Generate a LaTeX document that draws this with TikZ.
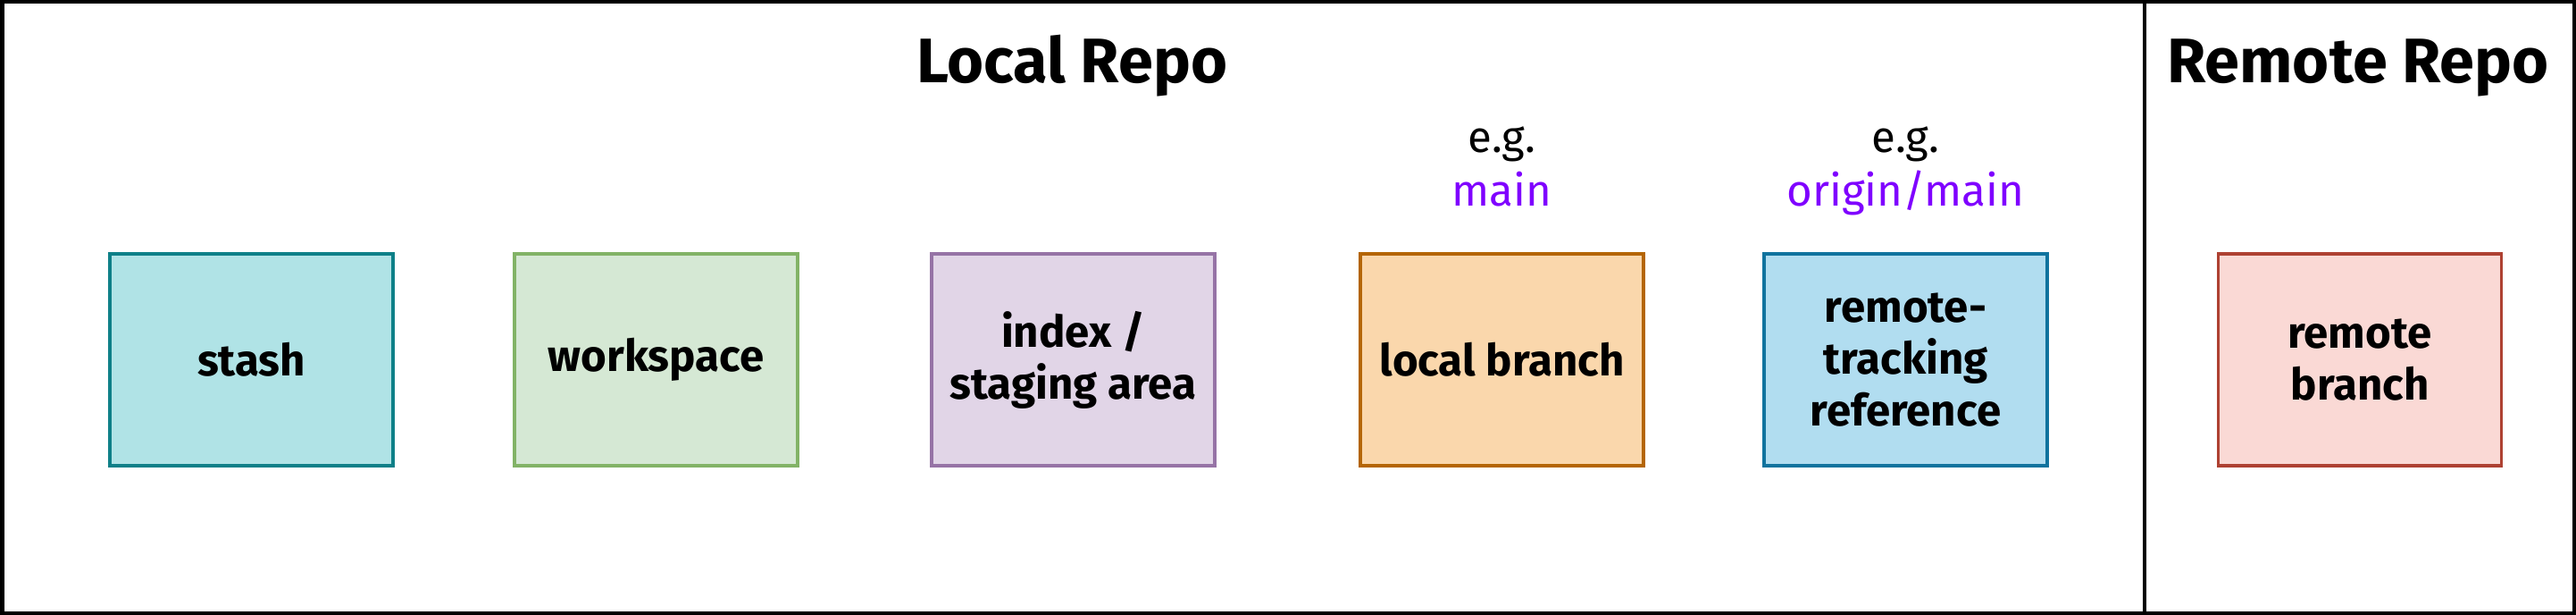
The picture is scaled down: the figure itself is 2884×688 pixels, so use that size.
\documentclass[tikz,border=0pt]{standalone}
\usepackage{fontspec}
\setmainfont{Fira Sans}
\definecolor{stashfill}{HTML}{B0E3E6}\definecolor{stashline}{HTML}{0E8088}
\definecolor{wsfill}{HTML}{D5E8D4}\definecolor{wsline}{HTML}{82B366}
\definecolor{idxfill}{HTML}{E1D5E7}\definecolor{idxline}{HTML}{9673A6}
\definecolor{lbfill}{HTML}{FAD7AC}\definecolor{lbline}{HTML}{B46504}
\definecolor{rtfill}{HTML}{B1DDF0}\definecolor{rtline}{HTML}{10739E}
\definecolor{rbfill}{HTML}{FAD9D5}\definecolor{rbline}{HTML}{AE4132}
\definecolor{purpletext}{HTML}{7F00FF}
\tikzset{
  repobox/.style={draw, line width=1pt, minimum width=3.17cm, minimum height=2.37cm,
    inner sep=0pt, align=center, font=\fontsize{14}{16.5}\selectfont\bfseries},
  repotitle/.style={anchor=base, inner sep=0pt, font=\fontsize{20}{24}\selectfont\bfseries},
  eglabel/.style={anchor=base, inner sep=0pt, font=\fontsize{14}{16.5}\selectfont},
}
\begin{document}
\begin{tikzpicture}[x=0.01cm, y=-0.01cm]
\useasboundingbox (0,0) rectangle (2884,688);
\draw[line width=0.045cm] (2.25,2.25) rectangle (2881.75,685.75);
\coordinate (divtop) at (2401,2.25);
\coordinate (divbot) at (2401,685.75);
\draw[line width=0.04cm] (divtop) -- (divbot);

\node[repotitle] (localtitle) at (1200,93) {Local Repo};
\node[repotitle] (remotetitle) at (2640,93) {Remote Repo};

\node[eglabel] (eg1) at (1681.5,171) {e.g.};
\node[eglabel, text=purpletext] (main1) at (1681.5,231) {main};
\node[eglabel] (eg2) at (2133.5,171) {e.g.};
\node[eglabel, text=purpletext] (main2) at (2133.5,231) {origin/main};

\node[repobox, fill=stashfill, draw=stashline] (stash) at (281.5,402.5) {stash};
\node[repobox, fill=wsfill, draw=wsline] (workspace) at (734.5,402.5) {workspace};
\node[repobox, fill=idxfill, draw=idxline] (index) at (1201.5,402.5) {index /\\staging area};
\node[repobox, fill=lbfill, draw=lbline] (local) at (1681.5,402.5) {local branch};
\node[repobox, fill=rtfill, draw=rtline] (rtref) at (2133.5,402.5) {remote-\\tracking\\reference};
\node[repobox, fill=rbfill, draw=rbline] (rbranch) at (2642,402.5) {remote\\branch};
\end{tikzpicture}
\end{document}
